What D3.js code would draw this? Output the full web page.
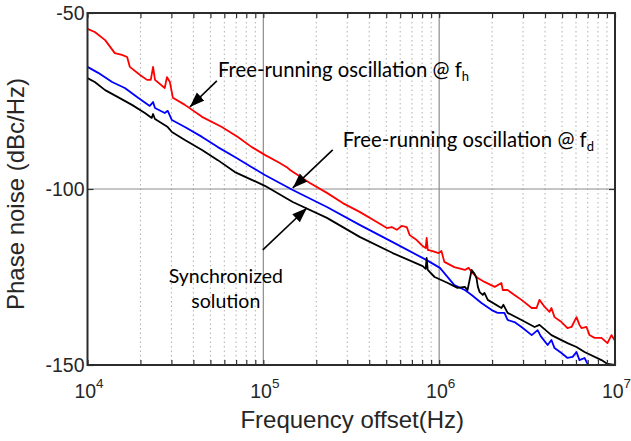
<!DOCTYPE html>
<html>
<head>
<meta charset="utf-8">
<script src="https://d3js.org/d3.v7.min.js"></script>
<style>
  body { margin: 0; background: #fff; }
</style>
</head>
<body>
<div id="my_dataviz"></div>
<script>
// values: frequency offset (Hz) / phase noise (dBc/Hz)
const redFreq = [1.0e4,1.10e4,1.26e4,1.43e4,1.57e4,1.68e4,1.74e4,1.99e4,2.18e4,2.29e4,2.36e4,2.42e4,2.75e4,2.83e4,2.94e4,3.06e4,3.58e4,4.48e4,5.81e4,7.16e4,8.60e4,1.02e5,1.24e5,1.36e5,1.42e5,1.84e5,2.30e5,2.83e5,3.53e5,4.42e5,5.04e5,5.37e5,5.74e5,6.12e5,6.54e5,6.80e5,7.45e5,8.06e5,8.38e5,8.49e5,8.61e5,9.07e5,9.94e5,1.03e6,1.07e6,1.22e6,1.40e6,1.47e6,1.53e6,1.66e6,1.81e6,2.07e6,2.26e6,2.30e6,2.45e6,2.68e6,2.94e6,3.36e6,3.58e6,3.72e6,3.98e6,4.24e6,4.35e6,4.53e6,4.96e6,5.37e6,5.66e6,6.04e6,6.28e6,6.45e6,6.89e6,7.16e6,7.65e6,8.38e6,9.06e6,9.55e6,9.93e6];
const redNoise = [-54.5,-55.4,-57.7,-61.4,-61.9,-62.5,-65.3,-67.6,-69.0,-69.0,-65.3,-69.0,-71.3,-68.2,-69.6,-74.1,-76.1,-79.5,-82.4,-85.2,-88.1,-90.3,-92.6,-93.8,-94.6,-98.3,-101.1,-104.0,-106.5,-109.4,-111.1,-110.8,-111.6,-110.5,-110.8,-113.1,-114.5,-116.2,-116.8,-113.9,-117.3,-117.6,-118.2,-117.6,-120.7,-122.2,-123.0,-122.4,-123.6,-125.3,-126.4,-127.8,-126.7,-128.7,-128.7,-130.1,-131.5,-133.8,-133.8,-131.5,-133.5,-134.9,-133.8,-136.4,-137.8,-139.5,-139.2,-136.4,-138.6,-139.5,-139.2,-141.5,-142.3,-142.3,-143.8,-141.5,-142.9];

const blueFreq = [1.0e4,1.15e4,1.38e4,1.63e4,1.94e4,2.26e4,2.36e4,2.42e4,2.75e4,2.86e4,3.02e4,3.58e4,4.48e4,5.51e4,6.89e4,8.60e4,1.02e5,1.47e5,2.30e5,3.53e5,5.44e5,8.49e5,1.01e6,1.07e6,1.22e6,1.40e6,1.53e6,1.74e6,1.99e6,2.15e6,2.35e6,2.45e6,2.68e6,2.94e6,3.36e6,3.63e6,3.78e6,4.14e6,4.35e6,4.53e6,4.96e6,5.37e6,5.74e6,6.04e6,6.28e6,6.71e6,6.98e6,7.26e6];
const blueNoise = [-65.3,-67.0,-69.6,-71.3,-74.1,-76.4,-75.3,-77.0,-78.4,-77.8,-80.4,-82.4,-85.2,-88.1,-90.9,-93.8,-96.0,-100.3,-105.1,-110.2,-115.1,-120.2,-122.4,-123.9,-127.3,-128.7,-130.1,-132.4,-134.4,-135.2,-135.2,-137.2,-137.8,-139.2,-141.5,-140.1,-141.8,-144.3,-142.9,-145.2,-146.6,-148.0,-147.7,-146.3,-148.6,-148.0,-149.7,-150.3];

const blackFreq = [1.0e4,1.10e4,1.26e4,1.49e4,1.79e4,2.12e4,2.32e4,2.36e4,2.42e4,2.86e4,3.02e4,3.58e4,4.48e4,5.51e4,6.89e4,8.60e4,1.02e5,1.47e5,2.30e5,3.53e5,5.44e5,8.06e5,8.38e5,8.49e5,8.61e5,9.42e5,1.12e6,1.27e6,1.40e6,1.45e6,1.53e6,1.59e6,1.63e6,1.66e6,1.70e6,1.77e6,1.81e6,1.89e6,2.26e6,2.32e6,2.45e6,2.94e6,3.49e6,3.72e6,4.35e6,5.37e6,6.04e6,6.71e6,8.38e6,9.06e6,1.0e7];
const blackNoise = [-68.5,-69.6,-71.9,-73.9,-76.1,-78.4,-79.8,-78.7,-80.1,-82.4,-83.8,-86.1,-88.9,-91.8,-95.2,-97.4,-99.1,-103.7,-108.2,-113.6,-118.2,-121.9,-122.7,-119.6,-123.0,-125.0,-126.7,-128.1,-127.8,-128.7,-123.0,-124.1,-125.3,-127.8,-129.3,-130.1,-129.5,-131.5,-133.8,-132.9,-135.2,-137.2,-139.2,-138.6,-141.5,-143.8,-144.9,-146.3,-148.6,-149.7,-150.0];

// axis ticks
const decadeTicks = [1e4, 1e5, 1e6, 1e7];
const decadeExp = ["4", "5", "6", "7"];
const yTicks = [-150, -100, -50];

// annotations (in data units)
const labelText = ["Free-running oscillation @ f", "Free-running oscillation @ f", "Synchronized", "solution"];
const labelSub = ["h", "d", "", ""];
const labelFreq = [5.52e4, 2.83e5, 6.12e4, 6.12e4];
const labelNoise = [-68.2, -88.1, -126.7, -133.8];
const labelAnchor = ["start", "start", "middle", "middle"];
const labelSize = [20.3, 20.3, 19.5, 19.5];
const arrowFrom = [[5.44e4, -69.3], [2.48e5, -88.9], [9.93e4, -117.3]];
const arrowTo = [[3.82e4, -76.7], [1.47e5, -99.7], [1.77e5, -105.4]];

// set the dimensions and margins of the graph
const margin = {top: 13, right: 16, bottom: 76, left: 87.5},
    width = 631 - margin.left - margin.right,
    height = 441 - margin.top - margin.bottom;

const root = d3.select("#my_dataviz")
  .append("svg")
    .attr("width", 631)
    .attr("height", 441);

root.append("defs").append("marker")
    .attr("id", "head")
    .attr("markerUnits", "userSpaceOnUse")
    .attr("markerWidth", 16).attr("markerHeight", 12)
    .attr("refX", 15).attr("refY", 5.5)
    .attr("orient", "auto")
  .append("path")
    .attr("d", "M0,0 L15,5.5 L0,11 Z")
    .attr("fill", "#000");

root.select("defs").append("clipPath").attr("id", "clip")
  .append("rect").attr("width", width).attr("height", height);

const svg = root.append("g")
    .attr("transform", `translate(${margin.left},${margin.top})`);

const x = d3.scaleLog().domain([1e4, 1e7]).range([0, width]);
const y = d3.scaleLinear().domain([-150, -50]).range([height, 0]);

// minor tick positions 2..9 in each decade
const minorTicks = [];
[1e4, 1e5, 1e6].forEach(d => { for (let k = 2; k <= 9; k++) minorTicks.push(d * k); });

// grid
svg.append("g").selectAll("line")
  .data(minorTicks)
  .join("line")
    .attr("x1", d => x(d)).attr("x2", d => x(d))
    .attr("y1", 0).attr("y2", height)
    .attr("stroke", "#b0b0b0")
    .attr("stroke-width", 1)
    .attr("stroke-dasharray", "1.5,3");

svg.append("g").selectAll("line")
  .data([1e5, 1e6])
  .join("line")
    .attr("x1", d => x(d)).attr("x2", d => x(d))
    .attr("y1", 0).attr("y2", height)
    .attr("stroke", "#8c8c8c")
    .attr("stroke-width", 1.2);

svg.append("line")
    .attr("x1", 0).attr("x2", width)
    .attr("y1", y(-100)).attr("y2", y(-100))
    .attr("stroke", "#8c8c8c")
    .attr("stroke-width", 1.2);

// curves
const line = d3.line()
  .x(d => x(d[0]))
  .y(d => y(d[1]));

const series = [
  {color: "#ff0000", pts: d3.zip(redFreq, redNoise)},
  {color: "#0000ff", pts: d3.zip(blueFreq, blueNoise)},
  {color: "#000000", pts: d3.zip(blackFreq, blackNoise)}
];

svg.append("g").attr("clip-path", "url(#clip)")
  .selectAll("path")
  .data(series)
  .join("path")
    .attr("fill", "none")
    .attr("stroke", d => d.color)
    .attr("stroke-width", 1.8)
    .attr("stroke-linejoin", "round")
    .attr("d", d => line(d.pts));

// axes with inward ticks
const allTicks = minorTicks.concat(decadeTicks);
const axisStyle = g => {
  g.select(".domain").remove();
  g.selectAll(".tick line").attr("stroke", "#333").attr("stroke-width", 1.2);
};
svg.append("g")
    .attr("transform", `translate(0,${height})`)
    .call(d3.axisBottom(x).tickValues(allTicks).tickSize(-5).tickFormat(""))
    .call(axisStyle);
svg.append("g")
    .call(d3.axisTop(x).tickValues(allTicks).tickSize(-5).tickFormat(""))
    .call(axisStyle);
svg.append("g")
    .attr("transform", `translate(${width},0)`)
    .call(d3.axisRight(y).tickValues(yTicks).tickSize(-6).tickFormat(""))
    .call(axisStyle);
svg.append("g")
    .call(d3.axisLeft(y).tickValues(yTicks).tickSize(-6).tickPadding(3).tickFormat(d => d))
    .call(axisStyle)
    .call(g => g.selectAll("text")
        .attr("font-family", "'Liberation Sans', Arial, sans-serif")
        .attr("font-size", "19.5px")
        .attr("fill", "#262626"));

// box
svg.append("rect")
    .attr("width", width).attr("height", height)
    .attr("fill", "none")
    .attr("stroke", "#2b2b2b")
    .attr("stroke-width", 2);

// x tick labels 10^n
const xl = svg.append("g").selectAll("text")
  .data(decadeTicks)
  .join("text")
    .attr("x", d => x(d) + 1.5)
    .attr("y", height + 33)
    .attr("text-anchor", "middle")
    .attr("font-family", "'Liberation Sans', Arial, sans-serif")
    .attr("font-size", "19.5px")
    .attr("fill", "#262626");
xl.append("tspan").text("10");
xl.append("tspan")
    .attr("dy", -10)
    .attr("font-size", "13.5px")
    .text((d, i) => decadeExp[i]);

// axis titles
svg.append("text")
    .attr("x", width / 2 + 1)
    .attr("y", height + 63)
    .attr("text-anchor", "middle")
    .attr("font-family", "'Liberation Sans', Arial, sans-serif")
    .attr("font-size", "24px")
    .attr("fill", "#262626")
    .text("Frequency offset(Hz)");
svg.append("text")
    .attr("transform", `translate(${24 - margin.left},${height / 2 + 5}) rotate(-90)`)
    .attr("text-anchor", "middle")
    .attr("font-family", "'Liberation Sans', Arial, sans-serif")
    .attr("font-size", "24px")
    .attr("fill", "#262626")
    .text("Phase noise (dBc/Hz)");

// annotation arrows
svg.append("g").selectAll("line")
  .data(d3.range(arrowFrom.length))
  .join("line")
    .attr("x1", i => x(arrowFrom[i][0])).attr("y1", i => y(arrowFrom[i][1]))
    .attr("x2", i => x(arrowTo[i][0])).attr("y2", i => y(arrowTo[i][1]))
    .attr("stroke", "#000")
    .attr("stroke-width", 1.6)
    .attr("marker-end", "url(#head)");

// annotation labels
const lab = svg.append("g").selectAll("text")
  .data(d3.range(labelText.length))
  .join("text")
    .attr("x", i => x(labelFreq[i]))
    .attr("y", i => y(labelNoise[i]))
    .attr("text-anchor", i => labelAnchor[i])
    .attr("font-family", "Lato, 'Open Sans', sans-serif")
    .attr("font-size", i => labelSize[i] + "px")
    .attr("fill", "#000");
lab.append("tspan").text(i => labelText[i]);
lab.append("tspan")
    .attr("dy", 4)
    .attr("font-size", "13px")
    .text(i => labelSub[i]);
</script>
</body>
</html>
